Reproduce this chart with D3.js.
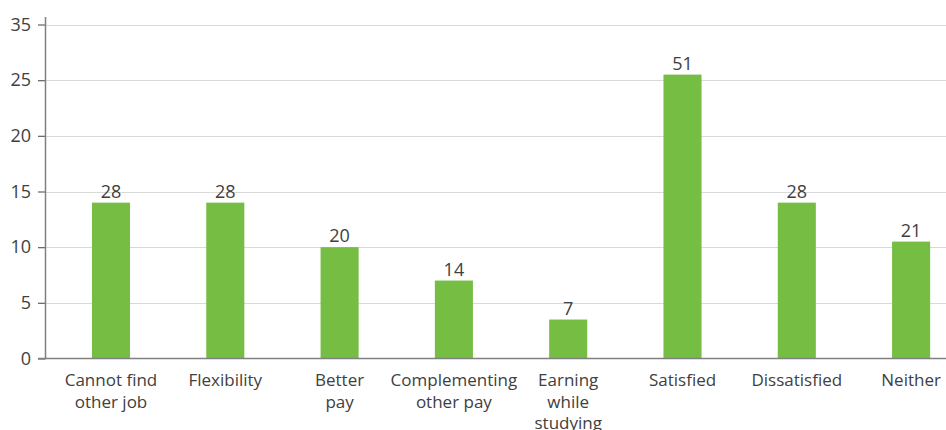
<!DOCTYPE html>
<html>
<head>
<meta charset="utf-8">
<script src="https://cdn.jsdelivr.net/npm/d3@7"></script>
<style>
  html, body { margin: 0; padding: 0; background: #ffffff; }
  svg { display: block; }
  text { font-family: "Open Sans", sans-serif; fill: #404040; }
</style>
</head>
<body>
<svg id="chart" width="946" height="430"></svg>
<script>
// Reasons for working and satisfaction (counts)
const categories = [
  ["Cannot find", "other job"],
  ["Flexibility"],
  ["Better", "pay"],
  ["Complementing", "other pay"],
  ["Earning", "while", "studying"],
  ["Satisfied"],
  ["Dissatisfied"],
  ["Neither"]
];
const values = [28, 28, 20, 14, 7, 51, 28, 21];
const tickValues = [0, 10, 20, 30, 40, 50, 60];
const tickLabels = ["0", "5", "10", "15", "20", "25", "35"];

const W = 946;
const FS = "18px";
const LABEL_FS = "17px";
const svg = d3.select("#chart");

const y = d3.scaleLinear().domain([0, 60]).range([358.5, 24.5]);
const x = d3.scaleBand()
  .domain(d3.range(categories.length))
  .range([53.9, 968.2])
  .paddingInner(0.667)
  .paddingOuter(0.333);

const axisX = 45.5;

// horizontal gridlines
svg.append("g")
  .selectAll("line")
  .data(tickValues.filter(d => d > 0))
  .join("line")
  .attr("x1", axisX).attr("x2", W)
  .attr("y1", d => Math.round(y(d)) + 0.5)
  .attr("y2", d => Math.round(y(d)) + 0.5)
  .attr("stroke", "#d9d9d9").attr("stroke-width", 1);

// bars
svg.append("g")
  .selectAll("rect")
  .data(values)
  .join("rect")
  .attr("x", (d, i) => x(i))
  .attr("width", x.bandwidth())
  .attr("y", d => y(d))
  .attr("height", d => y(0) - y(d))
  .attr("fill", "#75be43");

// value labels
svg.append("g")
  .selectAll("text")
  .data(values)
  .join("text")
  .attr("x", (d, i) => x(i) + x.bandwidth() / 2)
  .attr("y", d => y(d) - 5)
  .attr("text-anchor", "middle")
  .style("font-size", FS)
  .text(d => d);

// y axis
const yAxis = d3.axisLeft(y)
  .tickValues(tickValues)
  .tickFormat((d, i) => tickLabels[i])
  .tickSize(7.5)
  .tickPadding(7);
const gy = svg.append("g")
  .attr("transform", `translate(${axisX},0)`)
  .call(yAxis);
gy.select(".domain").remove();
gy.selectAll(".tick line").attr("stroke", "#6e6e6e").attr("stroke-width", 1.3);
gy.selectAll(".tick text")
  .style("font-size", FS)
  .style("font-family", "'Open Sans', sans-serif")
  .attr("fill", "#404040");
gy.append("line")
  .attr("x1", 0).attr("x2", 0)
  .attr("y1", 17).attr("y2", y(0))
  .attr("stroke", "#808080").attr("stroke-width", 1.5);

// baseline
svg.append("line")
  .attr("x1", 38).attr("x2", W)
  .attr("y1", y(0)).attr("y2", y(0))
  .attr("stroke", "#808080").attr("stroke-width", 1.5);

// category labels
const lab = svg.append("g")
  .selectAll("text")
  .data(categories)
  .join("text")
  .attr("text-anchor", "middle")
  .attr("x", (d, i) => x(i) + x.bandwidth() / 2)
  .attr("y", 386)
  .style("font-size", LABEL_FS);
lab.selectAll("tspan")
  .data(d => d)
  .join("tspan")
  .attr("x", function () { return this.parentNode.getAttribute("x"); })
  .attr("dy", (d, i) => i === 0 ? 0 : 21.5)
  .text(d => d);
</script>
</body>
</html>
